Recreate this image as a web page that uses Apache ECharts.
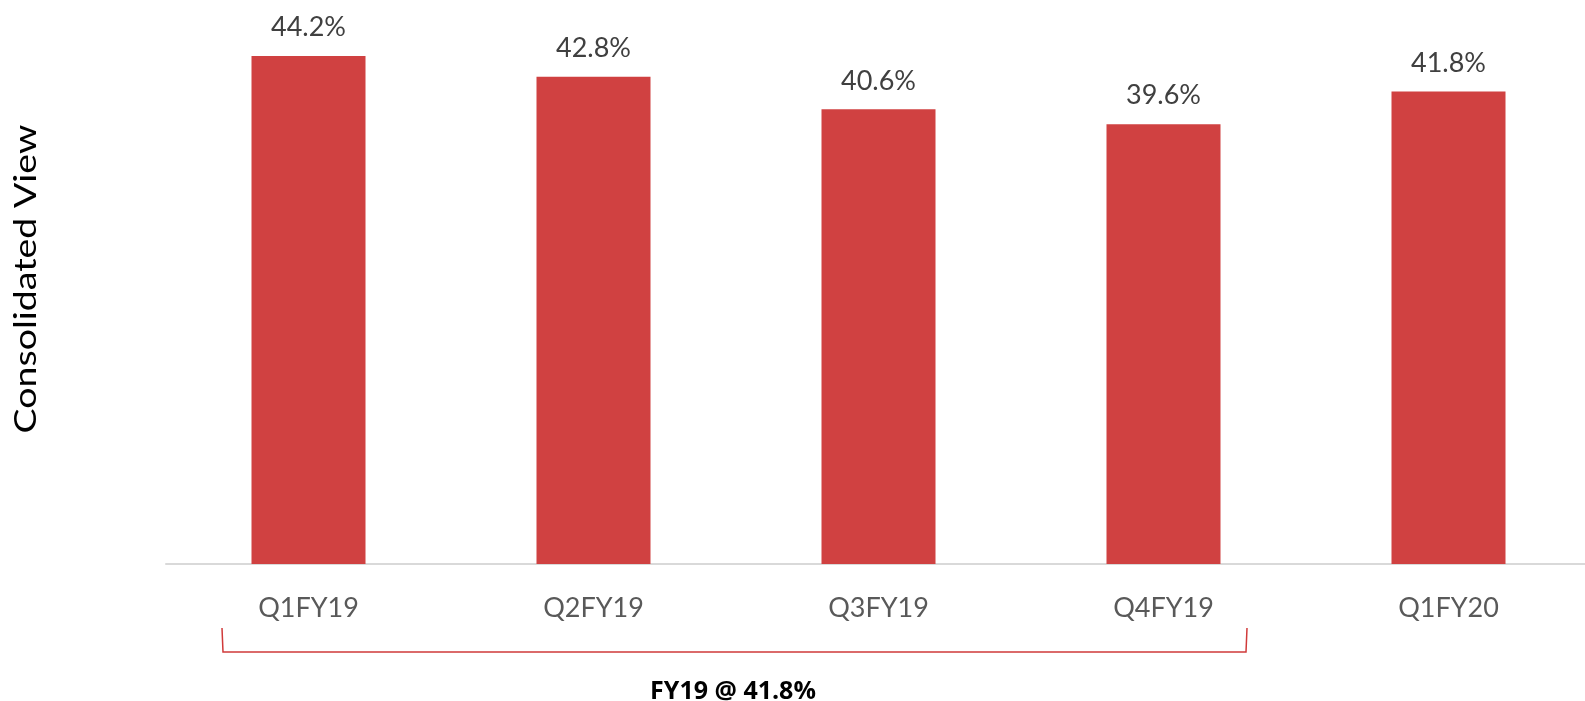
<!DOCTYPE html>
<html><head><meta charset="utf-8">
<script src="https://cdn.jsdelivr.net/npm/echarts@6/dist/echarts.min.js"></script>
<style>html,body{margin:0;padding:0;background:#fff}#c{width:1585px;height:701px}</style>
</head><body><div id="c"></div>
<script>
const categories = ['Q1FY19','Q2FY19','Q3FY19','Q4FY19','Q1FY20'];
const values = [44.2, 42.8, 40.6, 39.6, 41.8];
const yTitle = 'Consolidated View';
const bracketLabel = 'FY19 @ 41.8%';

const chart = echarts.init(document.getElementById('c'));
chart.setOption({
  animation: false,
  grid: {left: 166, width: 1425, top: 44, bottom: 137, outerBoundsMode: 'none', containLabel: false},
  xAxis: {
    type: 'category', data: categories,
    axisLine: {lineStyle: {color: '#d9d9d9', width: 2}},
    axisTick: {show: false},
    axisLabel: {color: '#595959', fontFamily: 'Lato', fontSize: 27, margin: 31}
  },
  yAxis: {
    type: 'value', min: 10, max: 45, show: false, splitLine: {show: false}
  },
  series: [{
    type: 'bar', data: values, barWidth: 114,
    itemStyle: {color: '#D04141'},
    label: {show: true, position: 'top', distance: 15, formatter: p => p.value.toFixed(1) + '%',
      color: '#404040', fontFamily: 'Lato', fontSize: 27}
  }],
  graphic: [
    {type: 'text', x: 26, y: 279, rotation: Math.PI/2, scaleX: 1.25, style: {text: yTitle, fill: '#000', font: '30px Lato', textAlign: 'center', textVerticalAlign: 'middle'}},
    {type: 'polyline', shape: {points: [[222,628],[223,652],[1246,652],[1247,628]]}, style: {stroke: '#D03A3A', lineWidth: 1.5, fill: null}},
    {type: 'text', x: 733, y: 692, style: {text: bracketLabel, fill: '#000', font: 'bold 25px "Open Sans"', textAlign: 'center', textVerticalAlign: 'middle'}}
  ]
});
</script></body></html>
